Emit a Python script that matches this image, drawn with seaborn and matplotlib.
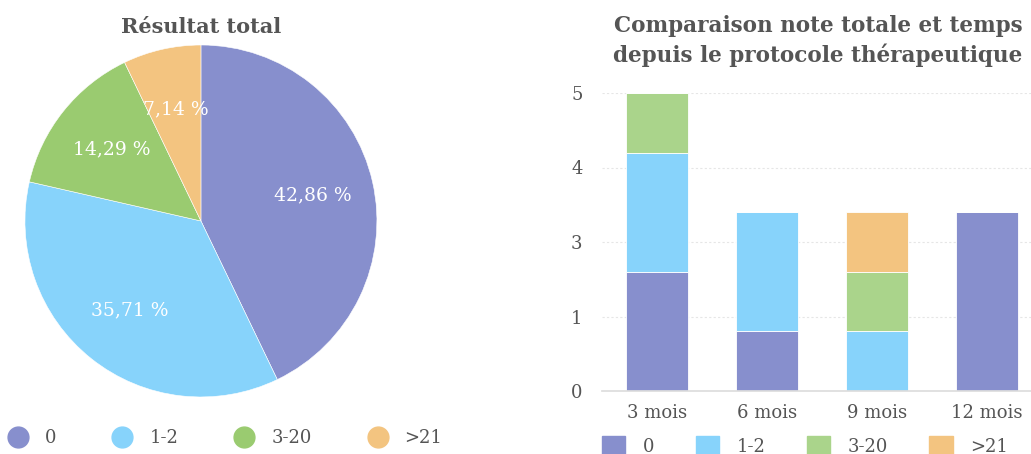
import numpy as np
import pandas as pd
import matplotlib
matplotlib.use("Agg")
import matplotlib.pyplot as plt
from matplotlib.ticker import MultipleLocator, FuncFormatter
from matplotlib.lines import Line2D
from matplotlib.patches import Patch
import seaborn as sns

sns.set_theme(style="white")
plt.rcParams['font.family'] = ['DejaVu Serif', 'Liberation Serif']

# data
groups = ['0', '1-2', '3-20', '>21']
pie_counts = [6, 5, 2, 1]
months = ['3 mois', '6 mois', '9 mois', '12 mois']
bar_0 = [2, 1, 0, 3]
bar_12 = [2, 2, 1, 0]
bar_320 = [1, 0, 1, 0]
bar_21 = [0, 0, 1, 0]

pie_colors = ['#878fcd', '#87d3fb', '#9acb70', '#f3c480']
bar_colors = ['#878fcd', '#87d3fb', '#aad48b', '#f3c480']
txt = '#555555'

fig = plt.figure(figsize=(10.31, 4.54), dpi=100)

# ---- pie ----
axp = fig.add_axes([0.0242, 0.1256, 0.3414, 0.7753])
wedges, texts, autotexts = axp.pie(
    pie_counts, colors=pie_colors, startangle=90, counterclock=False,
    autopct=lambda p: ('%.2f %%' % p).replace('.', ','), pctdistance=0.65,
    wedgeprops=dict(edgecolor='white', linewidth=0.4),
    textprops=dict(color='white', fontsize=13.5))
axp.set_xlim(-1, 1)
axp.set_ylim(-1, 1)
axp.set_aspect('equal')
fig.text(201 / 1031, 1 - 27 / 454, 'Résultat total', ha='center', va='center',
         fontsize=15, fontweight='bold', color=txt)

pie_handles = [Line2D([], [], marker='o', ls='', markersize=15, color=c)
               for c in pie_colors]
fig.legend(pie_handles, groups, loc='center left', bbox_to_anchor=(7 / 1031, 1 - 438 / 454),
           ncol=4, frameon=False, fontsize=13, labelcolor=txt, borderpad=0,
           borderaxespad=0, handletextpad=0.9, columnspacing=3.05, handlelength=1.2)

# ---- stacked bars ----
axb = fig.add_axes([602 / 1031, 63 / 454, 440 / 1031, 298 / 454])
series = [bar_0, bar_12, bar_320, bar_21]
bottom = np.zeros(len(months))
for vals, c in zip(series, bar_colors):
    sns.barplot(x=months, y=vals, bottom=bottom, color=c, width=0.56,
                errorbar=None, edgecolor='white', linewidth=0.6, ax=axb,
                saturation=1)
    bottom = bottom + np.array(vals)

axb.set_xlim(-0.5, 3.5)
axb.set_ylim(0, 5)
axb.yaxis.set_major_locator(MultipleLocator(1.25))
axb.yaxis.set_major_formatter(FuncFormatter(lambda v, p: '%d' % int(v + 0.5)))
axb.grid(axis='y', color='#e6e6e6', linestyle=(0, (2, 2)), linewidth=0.8)
axb.set_axisbelow(True)
for s in ['top', 'right', 'left']:
    axb.spines[s].set_visible(False)
axb.spines['bottom'].set_color('#dddddd')
axb.tick_params(axis='both', length=0, labelsize=13, colors=txt)
axb.tick_params(axis='y', pad=14)
axb.tick_params(axis='x', pad=9)
axb.set_xlabel('')
axb.set_ylabel('')

fig.text(818 / 1031, 1 - 41 / 454,
         'Comparaison note totale et temps\ndepuis le protocole thérapeutique',
         ha='center', va='center', fontsize=15.5, fontweight='bold', color=txt,
         linespacing=1.38)

bar_handles = [Patch(color=c) for c in bar_colors]
fig.legend(bar_handles, groups, loc='center left',
           bbox_to_anchor=(602 / 1031, 1 - 446 / 454), ncol=4, frameon=False,
           fontsize=13, labelcolor=txt, borderpad=0, borderaxespad=0,
           handlelength=1.3, handleheight=1.2,
           handletextpad=0.95, columnspacing=2.3)

fig.savefig('out.png', dpi=100)
